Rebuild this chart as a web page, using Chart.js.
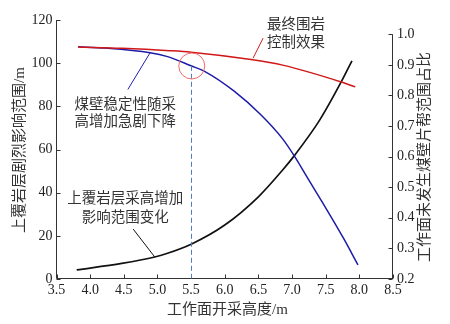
<!DOCTYPE html>
<html><head><meta charset="utf-8">
<script src="https://cdn.jsdelivr.net/npm/chart.js@4/dist/chart.umd.min.js"></script>
<style>html,body{margin:0;padding:0;background:#fff;}</style>
</head><body>
<canvas id="c" width="450" height="324"></canvas>
<script>
// ---- data ----
const xTicks = [3.5, 4.0, 4.5, 5.0, 5.5, 6.0, 6.5, 7.0, 7.5, 8.0, 8.5];
const leftTicks = [0, 20, 40, 60, 80, 100, 120];
const rightTicks = [0.2, 0.3, 0.4, 0.5, 0.6, 0.7, 0.8, 0.9, 1.0];

// 最终围岩控制效果 (left axis)
const redX = [3.82, 4.47, 5.18, 5.5, 6.39, 6.86, 7.73, 7.94];
const redY = [107.5, 106.9, 105.8, 105.1, 101.7, 99.1, 91.3, 89.0];
// 煤壁稳定性 (right axis, ratio)
const blueX = [3.82, 4.22, 4.89, 5.15, 5.5, 5.7, 6.14, 6.54, 6.86, 7.04, 7.21, 7.46, 7.61, 7.76, 7.98];
const blueY = [0.959, 0.955, 0.940, 0.927, 0.897, 0.879, 0.814, 0.736, 0.658, 0.600, 0.538, 0.447, 0.392, 0.335, 0.246];
// 上覆岩层影响范围 (left axis)
const blackX = [3.80, 4.47, 4.96, 5.15, 5.5, 6.0, 6.5, 6.86, 7.04, 7.41, 7.73, 7.89];
const blackY = [4.2, 7.2, 10.2, 11.9, 16.1, 25.0, 38.1, 50.5, 57.4, 73.6, 91.3, 101.1];

const markX = 5.5;

const pts = (xs, ys) => xs.map((x, i) => ({x: x, y: ys[i]}));
const SERIF = '"Liberation Serif", "Times New Roman", serif';
const CJK = '"Liberation Serif", "Noto Sans CJK SC", serif';

const deco = {
  id: 'deco',
  afterDraw(chart) {
    const ctx = chart.ctx;
    const sx = chart.scales.x, sy = chart.scales.y, sr = chart.scales.y1;
    const L = Math.floor(sx.getPixelForValue(3.5)) + 0.5;
    const R = Math.floor(sx.getPixelForValue(8.5)) - 0.5;
    const B = Math.floor(sy.getPixelForValue(0)) - 0.5;
    ctx.save();
    ctx.strokeStyle = '#333';
    ctx.lineWidth = 1;
    ctx.beginPath();
    ctx.moveTo(L, sy.getPixelForValue(120)); ctx.lineTo(L, B);
    ctx.moveTo(L, B); ctx.lineTo(R + 0.5, B);
    ctx.moveTo(R, sr.getPixelForValue(1.0)); ctx.lineTo(R, B);
    leftTicks.forEach(v => { const p = Math.round(sy.getPixelForValue(v)) + 0.5; ctx.moveTo(L, p); ctx.lineTo(L + 4, p); });
    rightTicks.forEach(v => { const p = Math.round(sr.getPixelForValue(v)) + 0.5; ctx.moveTo(R - 4, p); ctx.lineTo(R, p); });
    xTicks.forEach(v => { const p = Math.round(sx.getPixelForValue(v)) + 0.5; ctx.moveTo(p, B); ctx.lineTo(p, B - 4); });
    ctx.stroke();

    const mx = Math.round(sx.getPixelForValue(markX)) + 0.5;
    ctx.strokeStyle = '#4f7fc0';
    ctx.setLineDash([5, 3]);
    ctx.beginPath();
    ctx.moveTo(mx, sr.getPixelForValue(0.897));
    ctx.lineTo(mx, B);
    ctx.stroke();
    ctx.setLineDash([]);

    ctx.strokeStyle = '#f06a6a';
    ctx.beginPath();
    ctx.arc(sx.getPixelForValue(5.51), sy.getPixelForValue(98.7), 13, 0, Math.PI * 2);
    ctx.stroke();

    const seg = (c, x1, y1, x2, y2) => {
      ctx.strokeStyle = c; ctx.beginPath();
      ctx.moveTo(sx.getPixelForValue(x1), sy.getPixelForValue(y1));
      ctx.lineTo(sx.getPixelForValue(x2), sy.getPixelForValue(y2));
      ctx.stroke();
    };
    seg('#d02020', 6.57, 111.6, 6.42, 102.3);
    seg('#2020b0', 4.89, 104.8, 4.56, 87.8);
    seg('#111', 4.64, 23.1, 4.96, 10.2);

    ctx.fillStyle = '#333';
    ctx.font = '14.5px ' + CJK;
    ctx.textAlign = 'center';
    ctx.textBaseline = 'middle';
    const txt = (s, x, y) => ctx.fillText(s, sx.getPixelForValue(x), sy.getPixelForValue(y));
    txt('最终围岩', 7.06, 117.8);
    txt('控制效果', 7.06, 109.3);
    txt('煤壁稳定性随采', 4.52, 80.6);
    txt('高增加急剧下降', 4.52, 72.7);
    txt('上覆岩层采高增加', 4.52, 37.0);
    txt('影响范围变化', 4.52, 28.2);

    ctx.font = '15px ' + CJK;
    ctx.fillText('工作面开采高度/m', 227.5, 310);
    ctx.save();
    ctx.translate(20, 150);
    ctx.rotate(-Math.PI / 2);
    ctx.fillText('上覆岩层剧烈影响范围/m', 0, 0);
    ctx.restore();
    ctx.save();
    ctx.translate(425, 157);
    ctx.rotate(-Math.PI / 2);
    ctx.fillText('工作面未发生煤壁片帮范围占比', 0, 0);
    ctx.restore();
    ctx.restore();
  }
};

const tickFont = {family: SERIF, size: 14};
new Chart(document.getElementById('c'), {
  type: 'line',
  data: {
    datasets: [
      {label: '最终围岩控制效果', data: pts(redX, redY), yAxisID: 'y', borderColor: '#d01818', borderWidth: 1.5},
      {label: '煤壁稳定性', data: pts(blueX, blueY), yAxisID: 'y1', borderColor: '#1c1ca8', borderWidth: 1.5},
      {label: '上覆岩层影响范围', data: pts(blackX, blackY), yAxisID: 'y', borderColor: '#111', borderWidth: 1.7}
    ]
  },
  options: {
    responsive: false,
    animation: false,
    layout: {padding: {top: 20, left: 0, right: 0, bottom: 0}},
    elements: {point: {radius: 0}, line: {cubicInterpolationMode: 'monotone', fill: false}},
    plugins: {legend: {display: false}, tooltip: {enabled: false}},
    scales: {
      x: {
        type: 'linear', min: 3.5, max: 8.5,
        afterBuildTicks: s => { s.ticks = xTicks.map(v => ({value: v})); },
        afterFit: s => { s.height = 45; },
        grid: {display: false, drawTicks: false},
        border: {display: false},
        ticks: {font: tickFont, color: '#222', padding: 3, maxRotation: 0, autoSkip: false, callback: v => Number(v).toFixed(1)}
      },
      y: {
        position: 'left', min: 0, max: 120,
        afterBuildTicks: s => { s.ticks = leftTicks.map(v => ({value: v})); },
        afterFit: s => { s.width = 56.5; },
        grid: {display: false, drawTicks: false},
        border: {display: false},
        ticks: {font: tickFont, color: '#222', padding: 4, autoSkip: false}
      },
      y1: {
        position: 'right', min: 0.2, max: 1.0467,
        afterBuildTicks: s => { s.ticks = rightTicks.map(v => ({value: v})); },
        afterFit: s => { s.width = 57; },
        grid: {display: false, drawTicks: false},
        border: {display: false},
        ticks: {font: tickFont, color: '#222', padding: 4, autoSkip: false, callback: v => Number(v).toFixed(1)}
      }
    }
  },
  plugins: [deco]
});
</script>
</body></html>
